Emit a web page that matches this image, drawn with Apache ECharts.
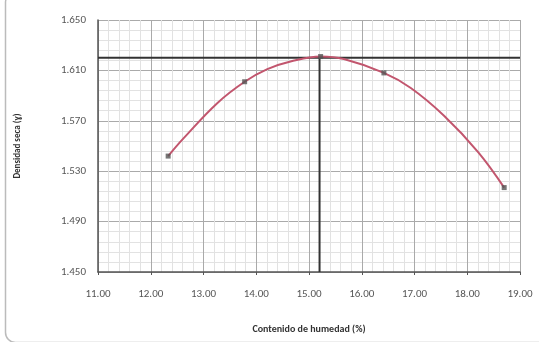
<!DOCTYPE html>
<html><head><meta charset="utf-8">
<script src="https://cdn.jsdelivr.net/npm/echarts@6/dist/echarts.min.js"></script>
<style>html,body{margin:0;padding:0;background:#fff}#c{width:539px;height:342px}</style>
</head><body><div id="c"></div>
<script>
const humedad = [12.33, 13.78, 15.22, 16.42, 18.70];
const densidad = [1.542, 1.601, 1.621, 1.608, 1.517];
// points read along the drawn trend curve between the measured points
const curvaHum = [12.33, 12.62, 13.26, 13.78, 14.21, 14.65, 15.22, 15.66, 16.42, 16.93, 17.56, 18.21, 18.70];
const curvaDens = [1.542, 1.556, 1.584, 1.601, 1.611, 1.617, 1.621, 1.619, 1.608, 1.596, 1.574, 1.545, 1.517];
const optHum = 15.2;
const maxDens = 1.620;
const xTicks = ['11.00','12.00','13.00','14.00','15.00','16.00','17.00','18.00','19.00'];
const yTicks = ['1.450','1.490','1.530','1.570','1.610','1.650'];

const chart = echarts.init(document.getElementById('c'), null, {renderer:'canvas'});
const font = 'Carlito, "Liberation Sans", sans-serif';
chart.setOption({
  animation:false,
  graphic:[{type:'rect',left:3,top:-10,shape:{width:560,height:350,r:10},style:{fill:'none',stroke:'#bbb',lineWidth:1.5},silent:true}],
  grid:{left:98,right:19,top:20,bottom:70},
  xAxis:{type:'value',min:11,max:19,interval:1,
    name:'Contenido de humedad (%)',nameLocation:'middle',nameGap:52,
    nameTextStyle:{fontFamily:font,fontSize:10,fontWeight:'bold',color:'#333'},
    axisLine:{show:true,lineStyle:{color:'#555',width:1.5}},
    axisTick:{show:true,length:3,lineStyle:{color:'#555'}},
    axisLabel:{fontFamily:font,fontSize:11,color:'#555',margin:17,
      formatter:v=>xTicks[Math.round(v-11)]},
    splitLine:{show:true,lineStyle:{color:'#aaa',width:1}},
    minorTick:{show:false,splitNumber:5},
    minorSplitLine:{show:true,lineStyle:{color:'#e2e2e2',width:1}}
  },
  yAxis:{type:'value',min:1.45,max:1.65,interval:0.04,
    name:'Densidad seca (ɣ)',nameLocation:'middle',nameGap:76,nameRotate:90,
    nameTextStyle:{fontFamily:font,fontSize:9,fontWeight:'bold',color:'#333'},
    axisLine:{show:true,lineStyle:{color:'#555',width:1.5}},
    axisTick:{show:false},
    axisLabel:{fontFamily:font,fontSize:11,color:'#555',margin:12,
      formatter:v=>yTicks[Math.round((v-1.45)/0.04)]},
    splitLine:{show:true,lineStyle:{color:'#aaa',width:1}},
    minorTick:{show:false,splitNumber:5},
    minorSplitLine:{show:true,lineStyle:{color:'#e2e2e2',width:1}}
  },
  series:[
    {type:'line',data:[[11,maxDens],[19,maxDens]],symbol:'none',lineStyle:{color:'#333',width:2},z:3},
    {type:'line',data:[[optHum,1.45],[optHum,maxDens]],symbol:'none',lineStyle:{color:'#333',width:2},z:3},
    {type:'line',data:curvaHum.map((x,i)=>[x,curvaDens[i]]),smooth:0.4,
      symbol:'none',lineStyle:{color:'#c2566e',width:2},z:4},
    {type:'scatter',data:humedad.map((x,i)=>[x,densidad[i]]),
      symbol:'rect',symbolSize:5,itemStyle:{color:'#555'},z:5}
  ]
});
</script></body></html>
